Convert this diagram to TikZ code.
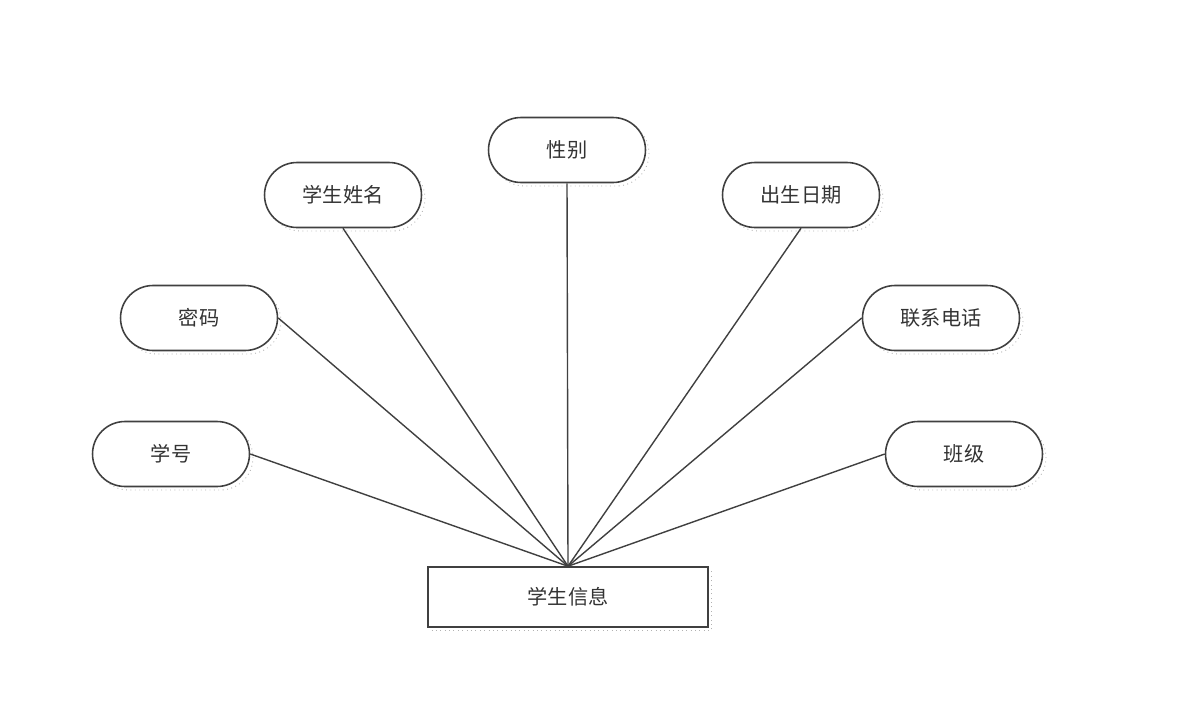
\documentclass[tikz,border=0pt]{standalone}
\usepackage{fontspec}
\setmainfont{Noto Sans CJK SC}
\usetikzlibrary{shapes.misc,shadows}
\begin{document}
\begin{tikzpicture}[x=0.02cm,y=-0.02cm,
  attr/.style={rounded rectangle, draw=black!75, line width=0.9pt, fill=white,
    minimum width=3.14cm, minimum height=1.3cm, inner sep=0pt,
    font=\fontsize{11.5}{13}\selectfont, text=black!80,
    copy shadow={shadow xshift=0.07cm, shadow yshift=-0.07cm, draw=black!30, dotted, fill=none, line width=0.5pt}},
  ent/.style={rectangle, draw=black!75, line width=0.9pt, fill=white,
    minimum width=5.6cm, minimum height=1.2cm, inner sep=0pt,
    font=\fontsize{11.5}{13}\selectfont, text=black!80,
    copy shadow={shadow xshift=0.07cm, shadow yshift=-0.07cm, draw=black!30, dotted, fill=none, line width=0.5pt}},
  link/.style={draw=black!75, line width=0.8pt}]
\useasboundingbox (0,0) rectangle (1182,720);
\node[ent] (info) at (568,597) {学生信息};
\coordinate (top) at (info.north);
\node[attr] (xh) at (171,454) {学号};
\node[attr] (mm) at (199,318) {密码};
\node[attr] (xm) at (343,195) {学生姓名};
\node[attr] (xb) at (567,150) {性别};
\node[attr] (cs) at (801,195) {出生日期};
\node[attr] (dh) at (941,318) {联系电话};
\node[attr] (bj) at (964,454) {班级};
\draw[link] (xh.east) -- (top);
\draw[link] (mm.east) -- (top);
\draw[link] (xm.south) -- (top);
\draw[link] (xb.south) -- (top);
\draw[link] (cs.south) -- (top);
\draw[link] (dh.west) -- (top);
\draw[link] (bj.west) -- (top);
\end{tikzpicture}
\end{document}
